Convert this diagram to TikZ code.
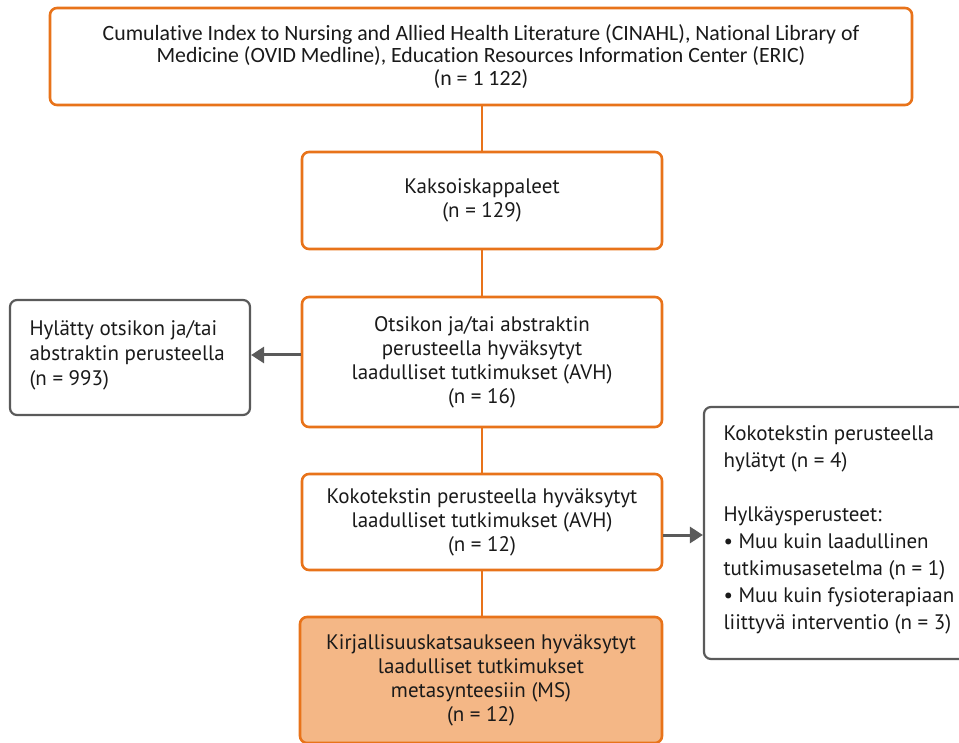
\documentclass[tikz,border=0pt]{standalone}
\usepackage{fontspec}
\setmainfont{PT Sans}
\newfontfamily\topfont[Ligatures=NoCommon]{Carlito}
\usetikzlibrary{arrows.meta}
\definecolor{orng}{HTML}{E8731A}
\definecolor{lorng}{HTML}{F4B786}
\definecolor{gry}{HTML}{5A5A5A}
\definecolor{txt}{HTML}{1A1A1A}
\begin{document}
\begin{tikzpicture}[x=1pt,y=-1pt,
  obox/.style={draw=orng,line width=2.6pt,rounded corners=7pt,fill=white,text=txt,align=center,inner sep=0pt},
  gbox/.style={draw=gry,line width=2.2pt,rounded corners=7pt,fill=white,text=txt,align=left,inner sep=0pt},
  oline/.style={draw=orng,line width=2.2pt},
  garrow/.style={draw=gry,line width=3pt,-{Triangle[length=13pt,width=16pt]}},
  tx/.style={font=\fontsize{21}{24}\selectfont}
]
\useasboundingbox (0,0) rectangle (959,743);
% vertical spine
\coordinate (s1) at (482,105);
\coordinate (s2) at (482,617);
\draw[oline] (s1) -- (s2);
% boxes
\node[obox,minimum width=862pt,minimum height=97pt,font=\topfont\fontsize{21.8}{22.5}\selectfont] (top) at (481,56.5)
 {Cumulative Index to Nursing and Allied Health Literature (CINAHL), National Library of\\Medicine (OVID Medline), Education Resources Information Center (ERIC)\\(n = 1 122)};
\node[obox,tx,minimum width=360pt,minimum height=97pt] (b2) at (482,200.5)
 {Kaksoiskappaleet\\(n = 129)};
\node[obox,tx,minimum width=360pt,minimum height=130pt] (b3) at (482,362)
 {Otsikon ja/tai abstraktin\\perusteella hyväksytyt\\laadulliset tutkimukset (AVH)\\(n = 16)};
\node[gbox,minimum width=240pt,minimum height=115pt] (l) at (130,357.5) {};
\node[text=txt,align=left,anchor=west,font=\fontsize{21}{25}\selectfont] (lt) at (26,355)
 {Hylätty otsikon ja/tai\\abstraktin perusteella\\(n = 993)};
\node[obox,tx,minimum width=360pt,minimum height=96pt] (b4) at (482,522)
 {Kokotekstin perusteella hyväksytyt\\laadulliset tutkimukset (AVH)\\(n = 12)};
\node[obox,fill=lorng,tx,minimum width=362pt,minimum height=126pt] (b5) at (481,680)
 {Kirjallisuuskatsaukseen hyväksytyt\\laadulliset tutkimukset\\metasynteesiin (MS)\\(n = 12)};
\node[gbox,minimum width=270pt,minimum height=252pt] (r) at (839,533) {};
\node[text=txt,align=left,anchor=north west,font=\fontsize{21}{27}\selectfont] (rt) at (720,422)
 {Kokotekstin perusteella\\hylätyt (n = 4)\\[27pt]Hylkäysperusteet:\\• Muu kuin laadullinen\\tutkimusasetelma (n = 1)\\• Muu kuin fysioterapiaan\\liittyvä interventio (n = 3)};
% arrows
\draw[garrow] (b3.west |- 0,355) -- (l.east |- 0,355);
\draw[garrow] (b4.east |- 0,535) -- (r.west |- 0,535);
\end{tikzpicture}
\end{document}
